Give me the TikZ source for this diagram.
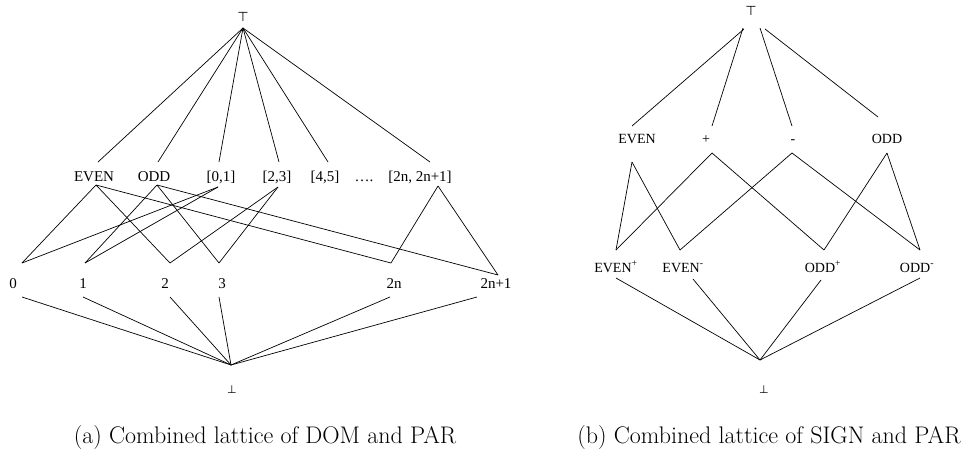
\documentclass[tikz,border=0pt]{standalone}
\usepackage{fontspec}
\newfontfamily\lblfont{Liberation Serif}
\newfontfamily\symfont{DejaVu Sans}
\begin{document}
\begin{tikzpicture}[x=1pt,y=-1pt,
  la/.style={font=\lblfont\fontsize{15}{15}\selectfont, anchor=base, inner sep=0pt},
  lb/.style={font=\lblfont\fontsize{14}{14}\selectfont, anchor=base, inner sep=0pt},
  symtop/.style={font=\symfont\fontsize{13}{13}\selectfont, anchor=base, inner sep=0pt},
  symbot/.style={font=\symfont\fontsize{11}{11}\selectfont, anchor=base, inner sep=0pt},
  capt/.style={font=\fontsize{24}{28}\selectfont, anchor=base, inner sep=0pt},
  conn/.style={line width=0.7pt}]
\useasboundingbox (0,0) rectangle (977,453);

% ---------------- (a) DOM x PAR ----------------
\node[symtop] (aTop) at (243,21) {⊤};
\node[la] (aEVEN) at (94,181) {EVEN};
\node[la] (aODD) at (154,181) {ODD};
\node[la] (a01) at (221,181) {[0,1]};
\node[la] (a23) at (277,181) {[2,3]};
\node[la] (a45) at (325,181) {[4,5]};
\node[la] (adots) at (364,181) {….};
\node[la] (a2nn) at (420,181) {[2n, 2n+1]};
\node[la] (a0) at (13,288) {0};
\node[la] (a1) at (83,288) {1};
\node[la] (a2) at (165,288) {2};
\node[la] (a3) at (222,288) {3};
\node[la] (a2n) at (394,288) {2n};
\node[la] (a2n1) at (496,288) {2n+1};
\node[symbot] (aBot) at (232,393) {⊥};

\coordinate (aT) at (243,28);
\coordinate (aEVENt) at (98,162);
\coordinate (aODDt) at (158,162);
\coordinate (a01t) at (219,162);
\coordinate (a23t) at (279,162);
\coordinate (a45t) at (328,162);
\coordinate (a2nnt) at (430,162);
\coordinate (aEVENb) at (96,185);
\coordinate (aODDb) at (157,185);
\coordinate (a01b) at (218,187);
\coordinate (a23b) at (278,187);
\coordinate (a2nnb) at (438,186);
\coordinate (a0t) at (22,263);
\coordinate (a1t) at (85,263);
\coordinate (a2t) at (170,263);
\coordinate (a3t) at (219,263);
\coordinate (a2nt) at (391,263);
\coordinate (a2n1t) at (498,275);
\coordinate (a0b) at (22,297);
\coordinate (a1b) at (83,297);
\coordinate (a2b) at (170,297);
\coordinate (a3b) at (219,297);
\coordinate (a2nb) at (390,297);
\coordinate (a2n1b) at (477,297);
\coordinate (aB) at (231,365);

\foreach \n in {aEVENt,aODDt,a01t,a23t,a45t,a2nnt}
  \draw[conn] (aT) -- (\n);
\draw[conn] (aEVENb) -- (a0t);
\draw[conn] (aEVENb) -- (a2t);
\draw[conn] (aEVENb) -- (a2nt);
\draw[conn] (aODDb) -- (a1t);
\draw[conn] (aODDb) -- (a3t);
\draw[conn] (aODDb) -- (a2n1t);
\draw[conn] (a01b) -- (a0t);
\draw[conn] (a01b) -- (a1t);
\draw[conn] (a23b) -- (a2t);
\draw[conn] (a23b) -- (a3t);
\draw[conn] (a2nnb) -- (a2nt);
\draw[conn] (a2nnb) -- (a2n1t);
\foreach \n in {a0b,a1b,a2b,a3b,a2nb,a2n1b}
  \draw[conn] (\n) -- (aB);

\node[capt] (capa) at (265,443) {(a) Combined lattice of DOM and PAR};

% ---------------- (b) SIGN x PAR ----------------
\node[symtop] (bTop) at (751,15) {⊤};
\node[lb] (bEVEN) at (637,143) {EVEN};
\node[lb] (bPlus) at (706,143) {+};
\node[lb] (bMinus) at (793,143) {-};
\node[lb] (bODD) at (887,143) {ODD};
\node[lb] (bEVENp) at (616,272) {EVEN\textsuperscript{+}};
\node[lb] (bEVENm) at (683,272) {EVEN\textsuperscript{-}};
\node[lb] (bODDp) at (823,272) {ODD\textsuperscript{+}};
\node[lb] (bODDm) at (917,272) {ODD\textsuperscript{-}};
\node[symbot] (bBot) at (764,393) {⊥};

\coordinate (bTe) at (744,29);
\coordinate (bTp) at (743,28);
\coordinate (bTm) at (760,28);
\coordinate (bTo) at (765,29);
\coordinate (bEVENt) at (632,126);
\coordinate (bPlust) at (712,126);
\coordinate (bMinust) at (792,126);
\coordinate (bODDt) at (878,117);
\coordinate (bEVENb) at (632,162);
\coordinate (bPlusb) at (712,153);
\coordinate (bMinusb) at (792,153);
\coordinate (bODDb) at (887,153);
\coordinate (bEVENpt) at (616,250);
\coordinate (bEVENmt) at (680,250);
\coordinate (bODDpt) at (824,250);
\coordinate (bODDmt) at (920,250);
\coordinate (bEVENpb) at (616,278);
\coordinate (bEVENmb) at (693,279);
\coordinate (bODDpb) at (821,280);
\coordinate (bODDmb) at (920,278);
\coordinate (bB) at (760,360);

\draw[conn] (bTe) -- (bEVENt);
\draw[conn] (bTp) -- (bPlust);
\draw[conn] (bTm) -- (bMinust);
\draw[conn] (bTo) -- (bODDt);
\draw[conn] (bEVENb) -- (bEVENpt);
\draw[conn] (bEVENb) -- (bEVENmt);
\draw[conn] (bPlusb) -- (bEVENpt);
\draw[conn] (bPlusb) -- (bODDpt);
\draw[conn] (bMinusb) -- (bEVENmt);
\draw[conn] (bMinusb) -- (bODDmt);
\draw[conn] (bODDb) -- (bODDpt);
\draw[conn] (bODDb) -- (bODDmt);
\foreach \n in {bEVENpb,bEVENmb,bODDpb,bODDmb}
  \draw[conn] (\n) -- (bB);

\node[capt] (capb) at (769,443) {(b) Combined lattice of SIGN and PAR};
\end{tikzpicture}
\end{document}
